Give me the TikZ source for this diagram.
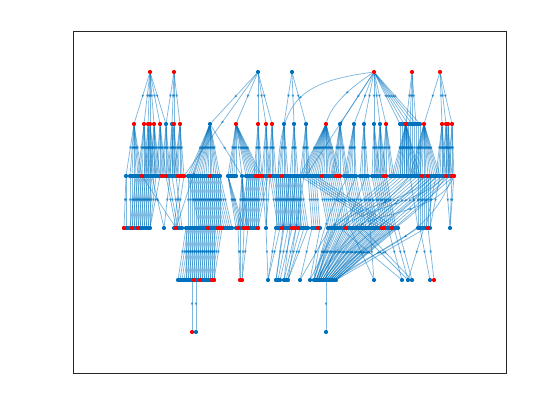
\documentclass[tikz,border=0pt]{standalone}
\usepackage{tikz}
\usetikzlibrary{arrows.meta}
\usetikzlibrary{decorations.markings}

\definecolor{mblue}{rgb}{0,0.447,0.741}
\pgfdeclarelayer{bg}
\pgfsetlayers{bg,main}

\tikzset{
	dot/.style={circle,fill=mblue,inner sep=0pt,minimum size=4.2pt},
	hot/.style={dot,fill=red},
	link/.style={draw=mblue,opacity=0.5,line width=0.75pt,postaction={decorate},
		decoration={markings,mark=at position 0.5 with {\arrow[mblue]{Latex[length=3.4pt,width=3pt]}}}},
}

\newcommand{\row}[4]{%
	\pgfmathtruncatemacro{\rownext}{#3+2}%
	\foreach \x in {#3,\rownext,...,#4} \node[dot] (r#1-\x) at (\x,#2) {};}
\newcommand{\fan}[4]{%
	\pgfmathtruncatemacro{\fannext}{#3+2}%
	\foreach \tx in {#3,\fannext,...,#4} \draw[link] (#1) -- (r#2-\tx);}

\begin{document}
\begin{tikzpicture}[x=1pt,y=-1pt]
	\useasboundingbox (0,0) rectangle (560,420);
	\draw[black!85,line width=0.5pt] (73,31) rectangle (506,373);
	
	\foreach \x in {258,292} \node[dot] (r1-\x) at (\x,72) {};
	\foreach \x in {150,174,374,412,440} \node[hot] (r1-\x) at (\x,72) {};
	
	\foreach \x in {166,172,210,284,294,306,340,354,364,374,380} \node[dot] (r2-\x) at (\x,124) {};
	\row{2}{124}{400}{420}
	\foreach \x in {134,144,148,150,154,160,174,180,236,258,266,272,326,386,406,424,442,446,448,452} \node[hot] (r2-\x) at (\x,124) {};
	
	\node[dot] (r3-126) at (126,176) {};
	\node[dot] (r3-242) at (242,176) {};
	\row{3}{176}{130}{184}
	\row{3}{176}{188}{220}
	\row{3}{176}{228}{236}
	\row{3}{176}{246}{340}
	\row{3}{176}{344}{356}
	\row{3}{176}{360}{368}
	\row{3}{176}{372}{386}
	\row{3}{176}{390}{454}
	\foreach \x in {142,162,166,178,180,182,184,210,256,258,260,262,270,282,322,336,338,340,384,386,422,428,446,452,454} \node[hot] (r3-\x) at (\x,176) {};
	
	\foreach \x in {164,266,450} \node[dot] (r4-\x) at (\x,228) {};
	\row{4}{228}{124}{150}
	\row{4}{228}{174}{182}
	\row{4}{228}{186}{232}
	\row{4}{228}{236}{258}
	\row{4}{228}{276}{308}
	\row{4}{228}{312}{320}
	\row{4}{228}{328}{398}
	\row{4}{228}{418}{430}
	\foreach \x in {124,132,138,176,208,218,220,222,238,244,246,248,258,282,292,294,298,318,346,382,384,392,428} \node[hot] (r4-\x) at (\x,228) {};
	
	\foreach \x in {268,300,310,374,402,408,412,430} \node[dot] (r5-\x) at (\x,280) {};
	\row{5}{280}{178}{214}
	\row{5}{280}{276}{280}
	\row{5}{280}{284}{288}
	\row{5}{280}{314}{336}
	\foreach \x in {194,200,212,214,240,242,434} \node[hot] (r5-\x) at (\x,280) {};
	
	\node[hot] (r6-192) at (192,332) {};
	\node[dot] (r6-196) at (196,332) {};
	\node[dot] (r6-326) at (326,332) {};
	
	\begin{pgfonlayer}{bg}
	\foreach \tx in {134,144,148,150,154,160,166} \draw[link] (r1-150) -- (r2-\tx);
	\foreach \tx in {166,172,174,180} \draw[link] (r1-174) -- (r2-\tx);
	\foreach \tx in {210,236,258,266,272} \draw[link] (r1-258) -- (r2-\tx);
	\draw[link] (r1-258) -- (r3-184);
	\foreach \tx in {284,294,306} \draw[link] (r1-292) -- (r2-\tx);
	\foreach \tx in {340,354,364,374,380,386,400,404,408,412,416,420} \draw[link] (r1-374) -- (r2-\tx);
	\draw[link] (r1-374) .. controls (300,82) and (280,100) .. (r3-278);
	\draw[link] (r1-374) .. controls (350,88) and (332,104) .. (r2-326);
	\draw[link] (r1-374) -- (r3-306);
	\foreach \tx in {406,410,412,416} \draw[link] (r1-412) -- (r2-\tx);
	\foreach \tx in {424,442,446,452} \draw[link] (r1-440) -- (r2-\tx);
	
	\draw[link] (r2-134) -- (r3-126);
	\fan{r2-134}{3}{130}{142}
	\fan{r2-144}{3}{138}{148}
	\fan{r2-148}{3}{144}{152}
	\fan{r2-150}{3}{146}{156}
	\fan{r2-154}{3}{150}{160}
	\fan{r2-160}{3}{156}{166}
	\fan{r2-166}{3}{162}{170}
	\fan{r2-172}{3}{168}{174}
	\fan{r2-174}{3}{170}{178}
	\fan{r2-180}{3}{174}{184}
	\fan{r2-210}{3}{188}{220}
	\draw[link] (r2-210) -- (r3-242);
	\draw[link] (r2-210) -- (r4-176);
	\fan{r2-236}{3}{228}{236}
	\draw[link] (r2-236) -- (r3-242);
	\fan{r2-236}{3}{246}{262}
	\fan{r2-258}{3}{254}{262}
	\fan{r2-266}{3}{262}{270}
	\fan{r2-272}{3}{268}{276}
	\fan{r2-284}{3}{278}{288}
	\fan{r2-294}{3}{290}{298}
	\fan{r2-306}{3}{300}{310}
	\fan{r2-326}{3}{300}{340}
	\fan{r2-340}{3}{332}{340}
	\fan{r2-340}{3}{344}{348}
	\fan{r2-354}{3}{344}{356}
	\fan{r2-364}{3}{360}{368}
	\fan{r2-374}{3}{372}{380}
	\fan{r2-380}{3}{376}{386}
	\fan{r2-386}{3}{382}{386}
	\fan{r2-386}{3}{390}{394}
	\foreach \x in {400,402,...,420} \draw[link] (r2-\x) -- (r3-\x);
	\fan{r2-406}{3}{392}{420}
	\fan{r2-424}{3}{410}{440}
	\fan{r2-442}{3}{436}{446}
	\fan{r2-446}{3}{442}{450}
	\fan{r2-448}{3}{446}{452}
	\fan{r2-452}{3}{448}{454}
	
	\draw[link] (r3-126) -- (r4-124);
	\draw[link] (r3-126) -- (r4-126);
	\foreach \x in {130,132,...,150} \draw[link] (r3-\x) -- (r4-\x);
	\foreach \x [evaluate=\x as \y using int(\x-6)] in {136,138,...,156} \draw[link] (r3-\x) -- (r4-\y);
	\foreach \a/\b in {r3-142/r4-176,r3-152/r4-164,r3-166/r4-176,r3-168/r4-178,r3-172/r4-180,r3-176/r4-182,r3-180/r4-174,r3-184/r4-176,r3-160/r4-150,r3-170/r4-164}
		\draw[link] (\a) -- (\b);
	\foreach \x in {188,190,...,220} \draw[link] (r3-\x) -- (r4-\x);
	\foreach \x [evaluate=\x as \y using int(\x+12)] in {188,190,...,220} \draw[link] (r3-\x) -- (r4-\y);
	\fan{r3-228}{4}{236}{244}
	\fan{r3-242}{4}{238}{248}
	\foreach \x in {246,248,...,258} \draw[link] (r3-\x) -- (r4-\x);
	\foreach \x [evaluate=\x as \y using int(\x-10)] in {248,250,...,268} \draw[link] (r3-\x) -- (r4-\y);
	\foreach \a/\b in {r3-262/r4-266,r3-266/r4-266,r3-270/r4-266} \draw[link] (\a) -- (\b);
	\foreach \x in {276,278,...,300} \draw[link] (r3-\x) -- (r4-\x);
	\foreach \x [evaluate=\x as \y using int(\x+8)] in {270,272,...,300} \draw[link] (r3-\x) -- (r4-\y);
	\foreach \x [evaluate=\x as \y using int(\x+4)] in {308,310,...,316} \draw[link] (r3-\x) -- (r4-\y);
	\foreach \x [evaluate=\x as \y using int(\x+10)] in {318,320,...,340} \draw[link] (r3-\x) -- (r4-\y);
	\foreach \x [evaluate=\x as \y using int(\x+10)] in {344,346,...,356} \draw[link] (r3-\x) -- (r4-\y);
	\foreach \x [evaluate=\x as \y using int(\x+10)] in {360,362,...,368} \draw[link] (r3-\x) -- (r4-\y);
	\foreach \x [evaluate=\x as \y using int(\x+10)] in {372,374,...,386} \draw[link] (r3-\x) -- (r4-\y);
	\foreach \x [evaluate=\x as \y using int(\x-60)] in {390,394,...,454} \draw[link] (r3-\x) -- (r4-\y);
	\foreach \x [evaluate=\x as \y using int(\x+80)] in {300,304,...,316} \draw[link] (r3-\x) -- (r4-\y);
	\foreach \x in {418,420,...,430} \draw[link] (r3-\x) -- (r4-\x);
	\foreach \a/\b in {r3-440/r4-430,r3-436/r4-426,r3-410/r4-418,r3-446/r4-450,r3-452/r4-450,r3-454/r4-450}
		\draw[link] (\a) -- (\b);
	\draw[link] (r3-454) .. controls (440,210) and (385,212) .. (r4-352);
	\draw[link] (r3-444) .. controls (422,202) and (372,206) .. (r4-340);
	\draw[link] (r3-432) .. controls (412,200) and (362,204) .. (r4-332);
	
	\foreach \x in {186,188,...,214} \draw[link] (r4-\x) -- (r5-\x);
	\foreach \x [evaluate=\x as \y using int(\x-8)] in {186,188,...,222} \draw[link] (r4-\x) -- (r5-\y);
	\foreach \a/\b in {r4-238/r5-240,r4-240/r5-240,r4-244/r5-242,r4-248/r5-242,r4-266/r5-268,r4-276/r5-268,r4-280/r5-268,r4-284/r5-276,r4-288/r5-278,r4-292/r5-280,r4-296/r5-284,r4-300/r5-286,r4-304/r5-288,r4-308/r5-288}
		\draw[link] (\a) -- (\b);
	\foreach \x [evaluate=\x as \y using int(314+2*floor((\x-328)/6))] in {328,330,...,398} \draw[link] (r4-\x) -- (r5-\y);
	\foreach \a/\b in {r4-330/r5-300,r4-336/r5-310,r4-312/r5-300,r4-320/r5-310,r4-350/r5-374,r4-370/r5-374,r4-388/r5-402,r4-394/r5-408,r4-398/r5-412,r4-420/r5-430,r4-428/r5-434,r4-424/r5-408,r4-418/r5-334,r4-426/r5-336,r4-340/r5-402,r4-356/r5-408,r4-362/r5-412}
		\draw[link] (\a) -- (\b);
	\foreach \a/\b in {r3-290/r5-276,r3-296/r5-284,r3-304/r5-288}
		\draw[link] (\a) -- (\b);
	\draw[link] (r3-452) .. controls (430,240) and (370,250) .. (r5-336);
	\draw[link] (r3-446) .. controls (415,225) and (360,245) .. (r5-330);
	\draw[link] (r3-436) .. controls (405,215) and (350,240) .. (r5-324);
	\draw[link] (r3-424) .. controls (395,210) and (345,235) .. (r5-318);
	\draw[link] (r3-410) .. controls (385,205) and (340,240) .. (r5-316);
	\draw[link] (r3-348) .. controls (330,210) and (318,240) .. (r5-314);
	\draw[link] (r3-356) .. controls (340,215) and (322,245) .. (r5-320);
	\draw[link] (r3-366) .. controls (350,220) and (330,250) .. (r5-326);
	
	\draw[link] (r5-192) -- (r6-192);
	\draw[link] (r5-196) -- (r6-196);
	\draw[link] (r5-326) -- (r6-326);
	\end{pgfonlayer}
\end{tikzpicture}
\end{document}
